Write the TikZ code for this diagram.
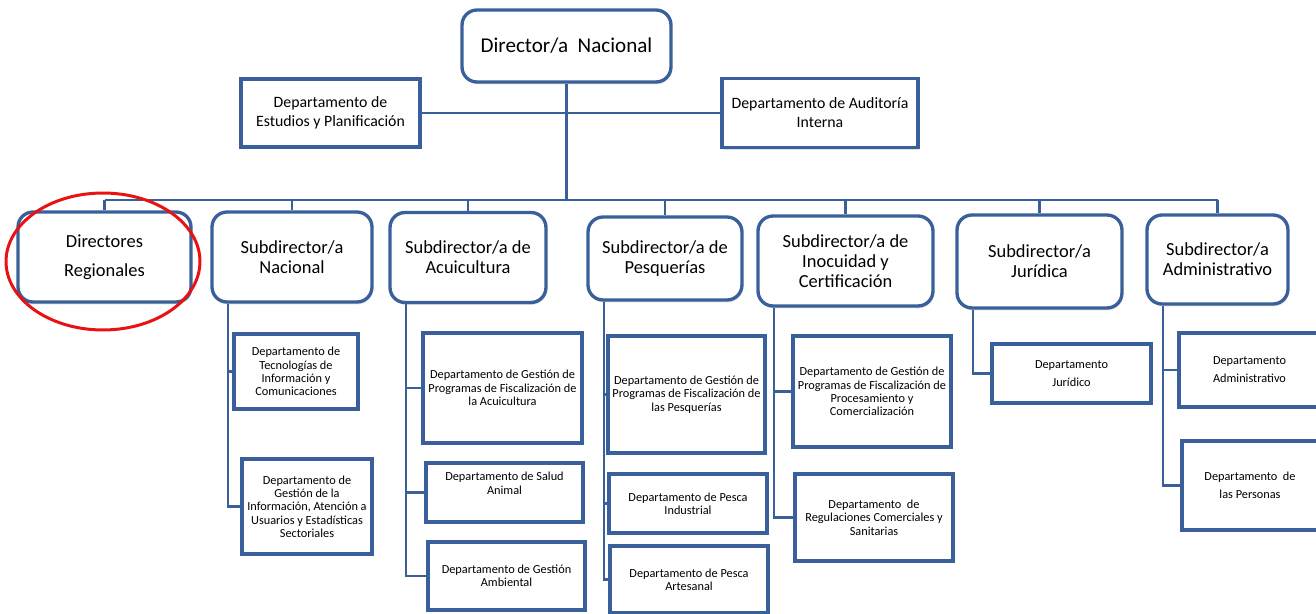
\documentclass[tikz,border=0pt]{standalone}
\usepackage{fontspec}
\setmainfont{Carlito}
\usepackage{tikz}
\usetikzlibrary{shadows}
\definecolor{orgblue}{RGB}{58,96,155}
\definecolor{markred}{RGB}{232,18,18}

\begin{document}
\begin{tikzpicture}[x=0.02cm, y=-0.02cm,
    caja/.style={draw=orgblue, line width=1.9pt, fill=white, align=center, inner sep=1pt,
        drop shadow={shadow xshift=0.5pt, shadow yshift=-1.3pt, opacity=0.25}},
    jefe/.style={caja, rounded corners=0.3cm},
    subdir/.style={jefe, minimum height=1.8cm, font={\fontsize{10.5}{11.5}\selectfont}},
    staff/.style={caja, font={\fontsize{9}{10.8}\selectfont}},
    depto/.style={caja, font={\fontsize{7}{7.6}\selectfont}},
    linea/.style={draw=orgblue, line width=1.3pt}]
    \useasboundingbox (0,0) rectangle (1316,614);
    \node[jefe, minimum width=4.18cm, minimum height=1.44cm, font={\fontsize{12}{14}\selectfont}] (dir) at (566.5,46) {Director/a\ \ Nacional};
    \node[staff, minimum width=3.58cm, minimum height=1.36cm] (est) at (330.5,113) {Departamento de\\Estudios y Planificación};
    \node[staff, minimum width=3.92cm, minimum height=1.38cm] (aud) at (820,113) {Departamento de Auditoría\\Interna};
    \node[subdir, minimum width=3.46cm] (reg) at (104.5,257) {Directores\\[5pt]Regionales};
    \node[subdir, minimum width=3.2cm] (nac) at (292,257) {Subdirector/a\\Nacional};
    \node[subdir, minimum width=3.12cm] (acu) at (468,257.5) {Subdirector/a de\\Acuicultura};
    \node[subdir, minimum width=3.08cm, minimum height=1.66cm] (pes) at (665,258.5) {Subdirector/a de\\Pesquerías};
    \node[subdir, minimum width=3.5cm] (ino) at (845.5,261) {Subdirector/a de\\Inocuidad y\\Certificación};
    \node[subdir, minimum width=3.3cm, minimum height=1.86cm] (jur) at (1039.5,261.5) {Subdirector/a\\Jurídica};
    \node[subdir, minimum width=2.82cm, minimum height=1.78cm] (adm) at (1217.5,259.5) {Subdirector/a\\Administrativo};
    \node[depto, minimum width=2.48cm, minimum height=1.5cm] (tic) at (296,371.5) {Departamento de\\Tecnologías de\\Información y\\Comunicaciones};
    \node[depto, minimum width=2.6cm, minimum height=1.9cm] (gia) at (307,506.5) {Departamento de\\Gestión de la\\Información, Atención a\\Usuarios y Estadísticas\\Sectoriales};
    \node[depto, minimum width=3.18cm, minimum height=2.2cm] (acu1) at (502.5,388) {Departamento de Gestión de\\Programas de Fiscalización de\\la Acuicultura};
    \node[depto, minimum width=3.14cm, minimum height=1.18cm] (acu2) at (504.5,492.5) {Departamento de Salud\\Animal\\[3pt]\mbox{}};
    \node[depto, minimum width=3.14cm, minimum height=1.36cm] (acu3) at (506.5,576) {Departamento de Gestión\\Ambiental};
    \node[depto, minimum width=3.14cm, minimum height=2.34cm] (pes1) at (686.5,394.5) {Departamento de Gestión de\\Programas de Fiscalización de\\las Pesquerías};
    \node[depto, minimum width=3.16cm, minimum height=1.18cm] (pes2) at (688,503.5) {Departamento de Pesca\\Industrial};
    \node[depto, minimum width=3.16cm, minimum height=1.34cm] (pes3) at (689,579.5) {Departamento de Pesca\\Artesanal};
    \node[depto, minimum width=3.16cm, minimum height=2.22cm] (ino1) at (872,391.5) {Departamento de Gestión de\\Programas de Fiscalización de\\Procesamiento y\\Comercialización};
    \node[depto, minimum width=3.16cm, minimum height=1.74cm] (ino2) at (874,517.5) {Departamento\ \ de\\Regulaciones Comerciales y\\Sanitarias};
    \node[depto, minimum width=3.18cm, minimum height=1.18cm] (jur1) at (1071.5,373.5) {Departamento\\[2.6pt]Jurídico};
    \node[depto, minimum width=2.82cm, minimum height=1.48cm] (adm1) at (1249.5,370) {Departamento\\[2.6pt]Administrativo};
    \node[depto, minimum width=2.72cm, minimum height=1.78cm] (adm2) at (1250,485.5) {Departamento\ \ de\\[2.6pt]las Personas};
    \coordinate (bus) at (104.5,200);
    \draw[linea] (dir.south) -- (dir.south |- bus);
    \draw[linea] (est.east) -- (aud.west);
    \draw[linea] (reg.north |- bus) -- (adm.north |- bus);
    \foreach \n in {reg,nac,acu,pes,ino,jur,adm}
        \draw[linea] (\n.north |- bus) -- (\n.north);
    \foreach \p/\c in {nac/tic,nac/gia,acu/acu1,acu/acu2,acu/acu3,pes/pes1,pes/pes2,pes/pes3,ino/ino1,ino/ino2,jur/jur1,adm/adm1,adm/adm2}
        \draw[linea] ([xshift=0.35cm]\p.south west) |- (\c.west);
    \draw[markred, line width=1.7pt] (103,261.5) ellipse [x radius=1.94cm, y radius=1.37cm];
\end{tikzpicture}
\end{document}
